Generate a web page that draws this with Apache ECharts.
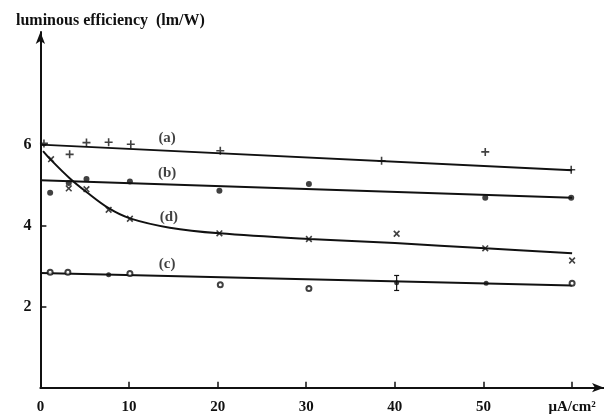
<!DOCTYPE html>
<html><head><meta charset="utf-8">
<script src="https://cdn.jsdelivr.net/npm/echarts@6/dist/echarts.min.js"></script>
<style>html,body{margin:0;padding:0;background:#fff}#c{width:604px;height:416px}</style>
</head><body><div id="c"></div>
<script>
// Series (a): "+" markers
const aX = [0.4, 3.3, 5.2, 7.7, 10.2, 20.3, 38.5, 50.2, 59.9];
const aY = [6.03, 5.76, 6.05, 6.06, 6.01, 5.85, 5.6, 5.82, 5.38];
const aFitX = [0, 60];
const aFitY = [6.0, 5.37];
// Series (b): filled dots
const bX = [1.1, 3.2, 5.2, 10.1, 20.2, 30.3, 50.2, 59.9];
const bY = [4.81, 5.05, 5.15, 5.09, 4.86, 5.03, 4.69, 4.69];
const bFitX = [0, 60];
const bFitY = [5.12, 4.69];
// Series (c): open circles and filled dots
const cOpenX = [1.1, 3.1, 10.1, 20.3, 30.3, 60];
const cOpenY = [2.85, 2.85, 2.82, 2.54, 2.45, 2.58];
const cFillX = [7.7, 40.2, 50.3];
const cFillY = [2.79, 2.59, 2.58];
const cErrX = [40.2];
const cErrLow = [2.40];
const cErrHigh = [2.77];
const cFitX = [0, 60];
const cFitY = [2.83, 2.52];
// Series (d): "x" markers
const dX = [1.2, 3.2, 5.2, 7.7, 10.1, 20.2, 30.3, 40.2, 50.2, 60];
const dY = [5.64, 4.92, 4.90, 4.39, 4.17, 3.81, 3.67, 3.80, 3.44, 3.14];
const dFitX = [0.3, 1.2, 3.3, 5.2, 7.7, 10.1, 14.6, 20.2, 30.3, 40, 50.2, 60];
const dFitY = [5.84, 5.62, 5.17, 4.83, 4.43, 4.18, 3.95, 3.81, 3.67, 3.57, 3.44, 3.32];
// Curve labels
const labX = [14.3, 14.3, 14.5, 14.3];
const labY = [6.17, 5.3, 4.2, 3.05];
const labText = ['(a)', '(b)', '(d)', '(c)'];
// Axis ticks
const xTicks = [10, 20, 30, 40, 50, 60];
const xLabels = [0, 10, 20, 30, 40, 50, 60];
const yTicks = [2, 4, 6];

const zip = (xs, ys) => xs.map((x, i) => [x, ys[i]]);
const serif = 'Liberation Serif';
const plusPath = 'path://M4,0H6V4H10V6H6V10H4V6H0V4H4Z';
const fitLine = (xs, ys, smooth) => ({
  type: 'line', data: zip(xs, ys), showSymbol: false, smooth: smooth || false,
  lineStyle: { color: '#111', width: 2 }, z: 2, silent: true
});

const chart = echarts.init(document.getElementById('c'));
chart.setOption({
  animation: false,
  backgroundColor: '#fff',
  title: {
    text: 'luminous efficiency  (lm/W)', left: 11, top: 8,
    textStyle: { fontFamily: serif, fontSize: 16, fontWeight: 'bold', color: '#111' }
  },
  grid: { left: 40.4, right: 0, top: 32, bottom: 28.3 },
  xAxis: {
    type: 'value', min: 0, max: 63.6, interval: 10,
    splitLine: { show: false },
    axisLine: { lineStyle: { color: '#111', width: 2 }, symbol: ['none', 'arrow'], symbolSize: [7, 12] },
    axisTick: { inside: true, length: 6, lineStyle: { color: '#111', width: 1.5 }, customValues: xTicks },
    axisLabel: {
      customValues: xLabels, margin: 12, color: '#111', fontFamily: serif, fontSize: 15, fontWeight: 'bold',
      formatter: v => v === 60 ? 'μA/cm²' : String(v)
    }
  },
  yAxis: {
    type: 'value', min: 0, max: 8.78, interval: 2,
    splitLine: { show: false },
    axisLine: { lineStyle: { color: '#111', width: 2 }, symbol: ['none', 'arrow'], symbolSize: [7, 12] },
    axisTick: { inside: true, length: 6, lineStyle: { color: '#111', width: 1.5 }, customValues: yTicks },
    axisLabel: { customValues: yTicks, margin: 9, color: '#111', fontFamily: serif, fontSize: 16, fontWeight: 'bold' }
  },
  series: [
    fitLine(aFitX, aFitY),
    fitLine(bFitX, bFitY),
    fitLine(cFitX, cFitY),
    fitLine(dFitX, dFitY, 0.35),
    { type: 'scatter', data: zip(aX, aY), symbol: plusPath, symbolSize: 8, itemStyle: { color: '#111' }, z: 3 },
    { type: 'scatter', data: zip(bX, bY), symbol: 'circle', symbolSize: 6, itemStyle: { color: '#111' }, z: 3 },
    { type: 'scatter', data: zip(cOpenX, cOpenY), symbol: 'emptyCircle', symbolSize: 5,
      itemStyle: { color: '#111', borderColor: '#111', borderWidth: 1.5 }, z: 3 },
    { type: 'scatter', data: zip(cFillX, cFillY), symbol: 'circle', symbolSize: 5, itemStyle: { color: '#111' }, z: 3 },
    { type: 'scatter', data: zip(dX, dY), symbol: plusPath, symbolRotate: 45, symbolSize: 8, itemStyle: { color: '#111' }, z: 3 },
    {
      type: 'custom', z: 3,
      data: cErrX.map((x, i) => [x, cErrLow[i], cErrHigh[i]]),
      renderItem: (params, api) => {
        const lo = api.coord([api.value(0), api.value(1)]);
        const hi = api.coord([api.value(0), api.value(2)]);
        const st = { stroke: '#111', lineWidth: 1.2 };
        return { type: 'group', children: [
          { type: 'line', shape: { x1: lo[0], y1: lo[1], x2: hi[0], y2: hi[1] }, style: st },
          { type: 'line', shape: { x1: lo[0] - 2.5, y1: lo[1], x2: lo[0] + 2.5, y2: lo[1] }, style: st },
          { type: 'line', shape: { x1: hi[0] - 2.5, y1: hi[1], x2: hi[0] + 2.5, y2: hi[1] }, style: st }
        ]};
      }
    },
    {
      type: 'scatter', symbolSize: 0, silent: true, z: 4,
      data: labX.map((x, i) => ({ value: [x, labY[i]], name: labText[i] })),
      label: { show: true, position: 'inside', formatter: p => p.name,
        fontFamily: serif, fontSize: 15, fontWeight: 'bold', color: '#111' }
    }
  ]
});
</script></body></html>
